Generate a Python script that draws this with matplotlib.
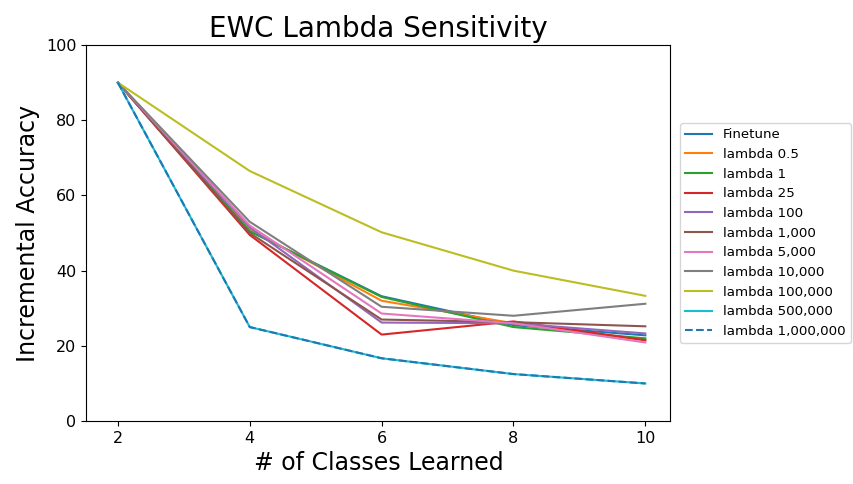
import numpy as np
import matplotlib
matplotlib.use('Agg')
import matplotlib.pyplot as plt

classes = [2, 4, 6, 8, 10]

finetune = [90., 50.5, 33.2, 25.5, 22.8]
lam_0_5 = [90., 51., 32., 26., 21.5]
lam_1 = [90., 50.5, 33., 25., 22.]
lam_25 = [90., 49.5, 23., 26.5, 21.5]
lam_100 = [90., 51.5, 26.2, 26., 23.3]
lam_1k = [90., 50., 27., 26.3, 25.2]
lam_5k = [90., 52., 28.6, 26., 20.9]
lam_10k = [90., 53., 30.4, 28., 31.2]
lam_100k = [90., 66.5, 50.2, 40., 33.3]
lam_500k = [90., 25., 16.7, 12.5, 10.]
lam_1m = [90., 25., 16.7, 12.5, 10.]

series = [('Finetune', finetune), ('lambda 0.5', lam_0_5), ('lambda 1', lam_1),
          ('lambda 25', lam_25), ('lambda 100', lam_100), ('lambda 1,000', lam_1k),
          ('lambda 5,000', lam_5k), ('lambda 10,000', lam_10k),
          ('lambda 100,000', lam_100k), ('lambda 500,000', lam_500k)]

fig = plt.figure(figsize=(8.54, 4.84), dpi=100)
ax = fig.add_axes([0.101, 0.130, 0.684, 0.777])

for name, vals in series:
    ax.plot(classes, vals, label=name)
ax.plot(classes, lam_1m, '--', color='C0', label='lambda 1,000,000')

ax.set_ylim(0, 100)
ax.set_xlim(1.52, 10.38)
ax.set_xticks(classes)
ax.tick_params(labelsize=11.5)
ax.set_title('EWC Lambda Sensitivity', fontsize=20)
ax.set_xlabel('# of Classes Learned', fontsize=17)
ax.set_ylabel('Incremental Accuracy', fontsize=17)
ax.legend(loc='center left', bbox_to_anchor=(1.005, 0.5), fontsize=9.6)

fig.savefig('out.png', dpi=100)
